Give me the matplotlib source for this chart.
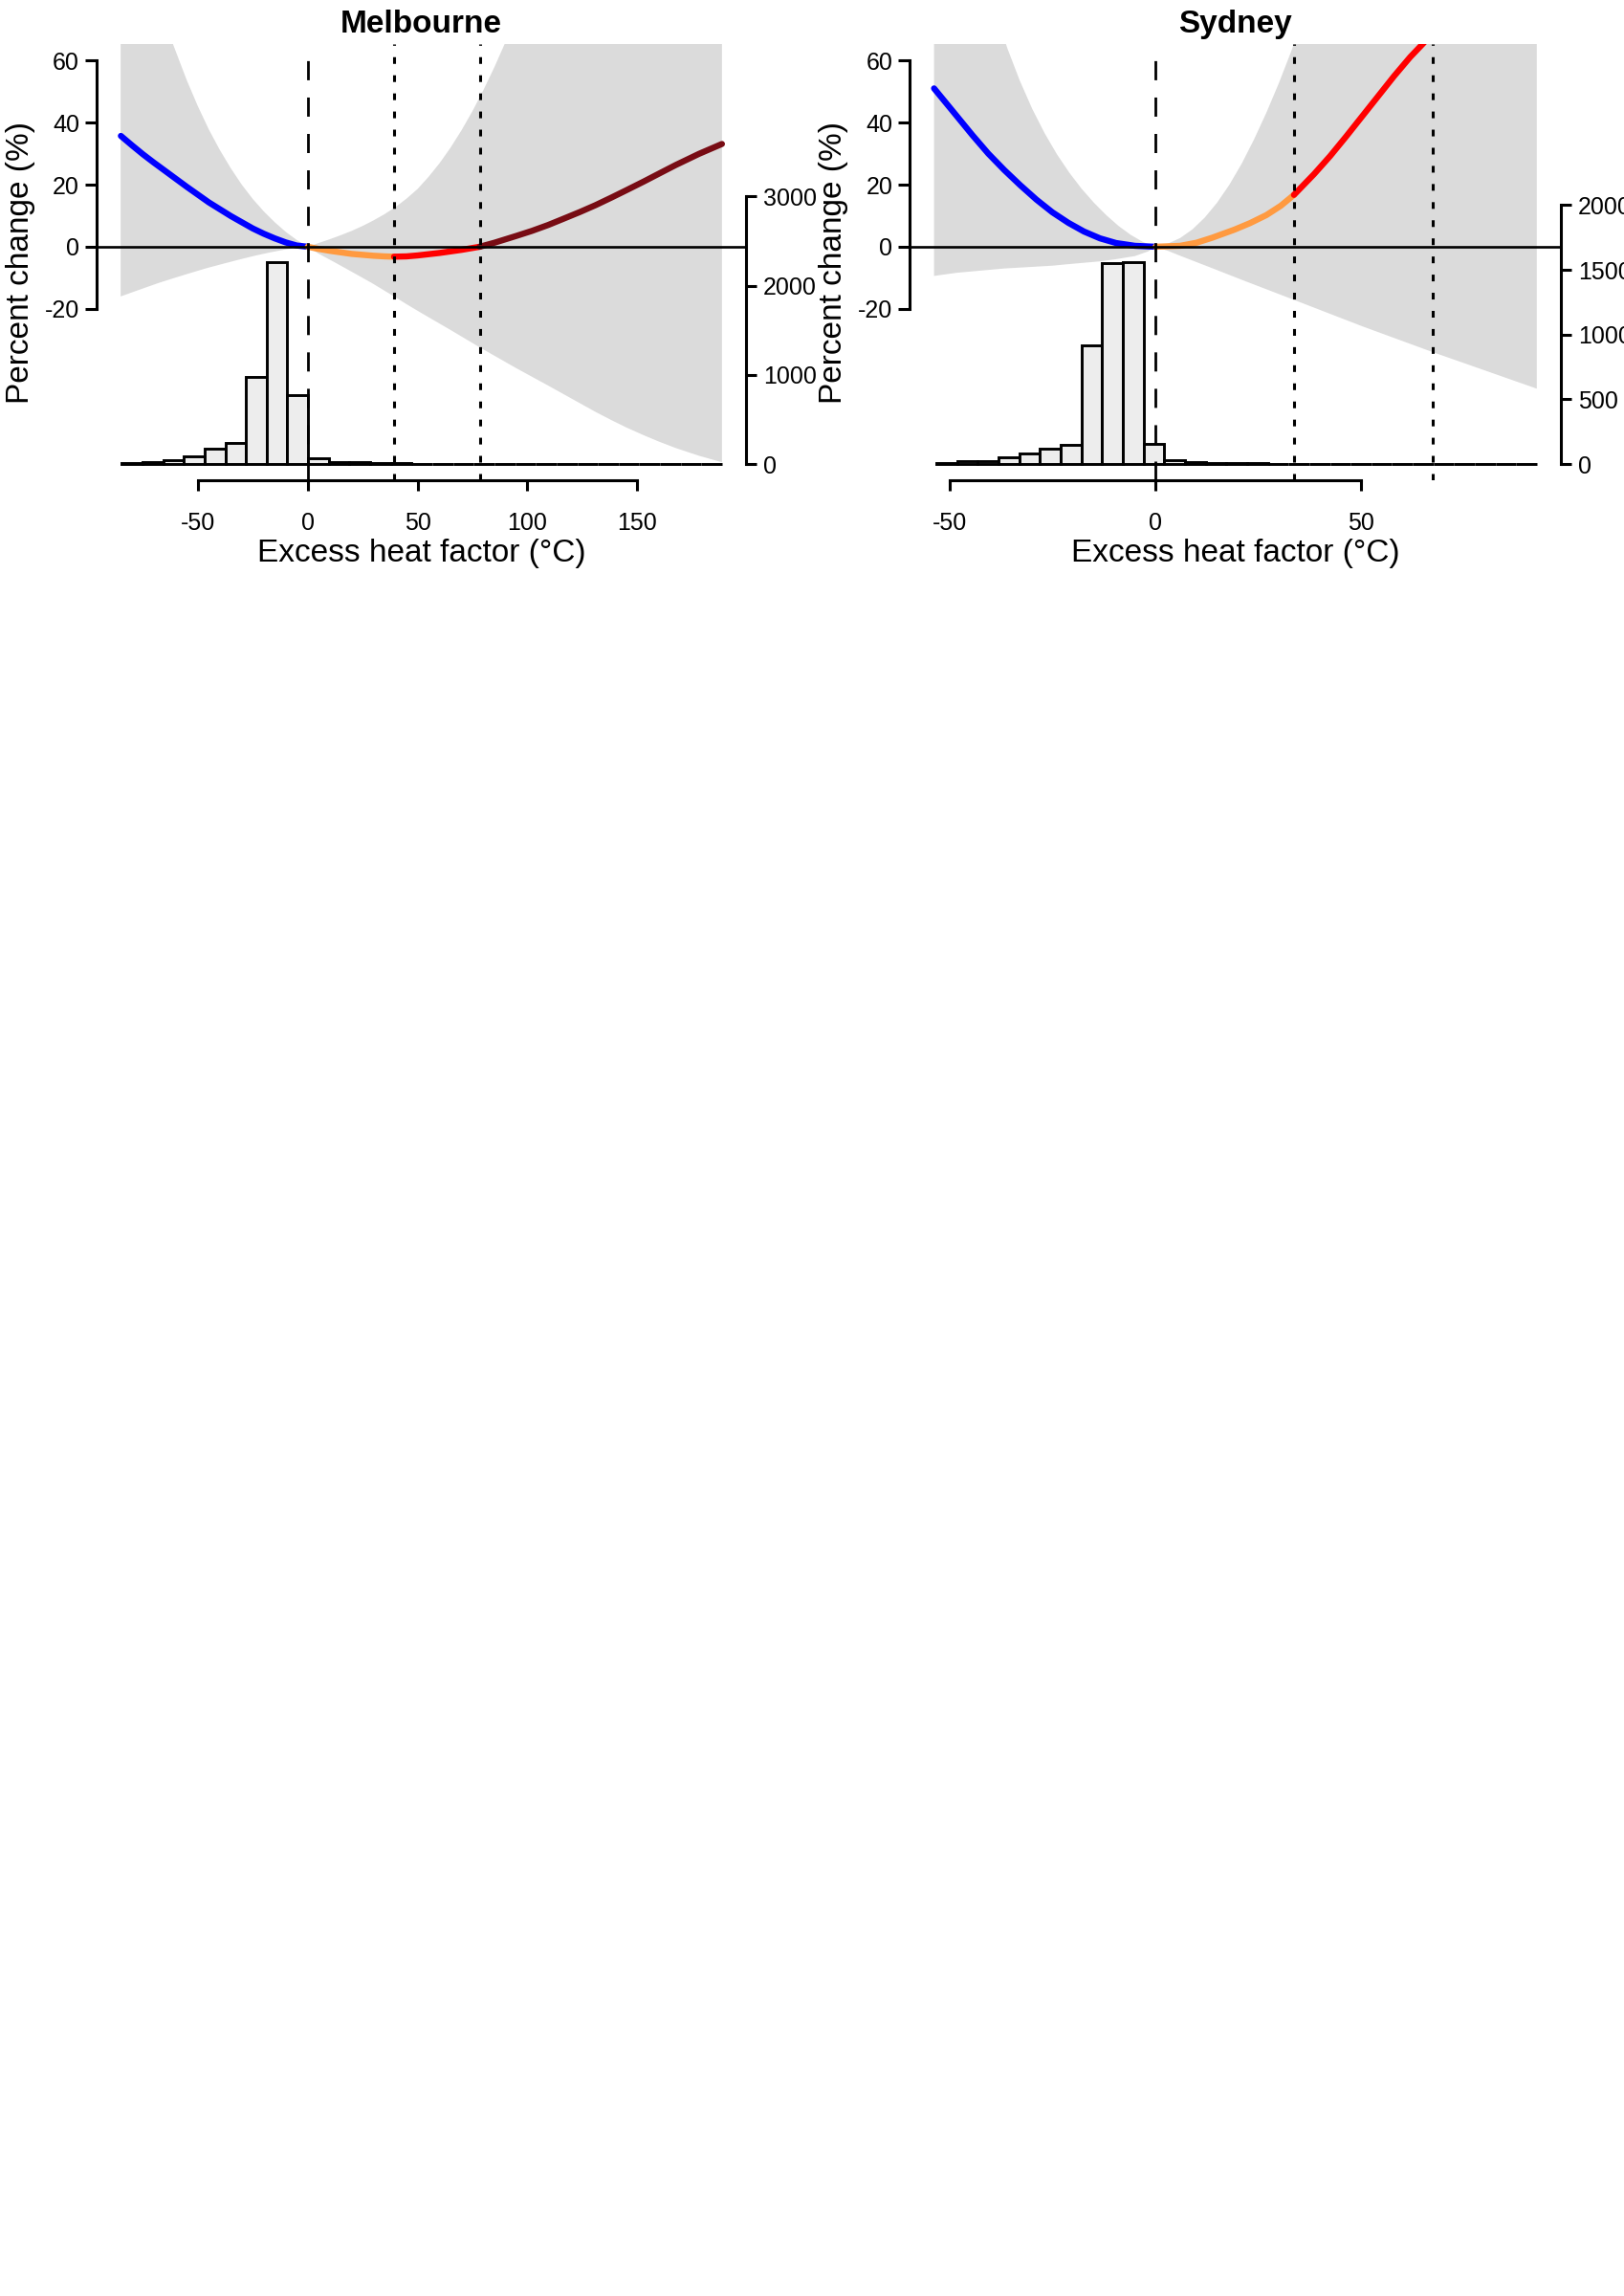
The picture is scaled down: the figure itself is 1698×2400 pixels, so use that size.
import numpy as np
import matplotlib
matplotlib.use('Agg')
import matplotlib.pyplot as plt

plt.rcParams['font.family'] = ['Liberation Sans', 'DejaVu Sans']
plt.rcParams['axes.unicode_minus'] = False

W, H = 1699, 2400

# ---------------- Melbourne ----------------
mel_range = (-85.1, 188.5)
mel_thresholds = [39.3, 78.3]
mel_xticks = [-50, 0, 50, 100, 150]
mel_hist_ticks = [0, 1000, 2000, 3000]

mel_blue_x = [-85, -80, -75, -70, -65, -60, -55, -50, -45, -40, -35, -30, -25, -20, -15, -10, -5, 0]
mel_blue_y = [35.7, 32.7, 29.8, 27.1, 24.5, 21.9, 19.3, 16.8, 14.3, 12.1, 9.9, 7.9, 5.9, 4.2, 2.7, 1.4, 0.4, 0]
mel_orange_x = [0, 5, 10, 15, 20, 25, 30, 35, 39.3]
mel_orange_y = [0, -0.7, -1.3, -1.8, -2.3, -2.6, -2.9, -3.1, -3.2]
mel_red_x = [39.3, 45, 50, 55, 60, 65, 70, 75, 78.3]
mel_red_y = [-3.2, -3.1, -2.8, -2.4, -2.0, -1.5, -1.0, -0.4, 0]
mel_dark_x = [78.3, 85, 95, 102, 109.4, 116, 123.9, 131, 138.4, 145, 152.9, 160, 167.4, 178, 188.5]
mel_dark_y = [0, 1.3, 3.5, 5.1, 7.0, 8.9, 11.2, 13.4, 15.9, 18.2, 21.0, 23.6, 26.3, 29.9, 33.1]

mel_hi_x = [-85.1, -75, -68, -61.1, -55, -50, -45, -40, -35, -30, -25, -20, -15, -10, -5, 0,
            5, 10, 15, 20, 25, 30, 35, 40, 45, 50, 55, 60, 65, 70, 75, 80, 85, 90, 95, 100, 188.5]
mel_hi = [122, 96, 80, 64.9, 53.6, 45.3, 37.8, 31.2, 25.3, 20.0, 15.4, 11.4, 7.9, 4.8, 2.2, 0,
          1.2, 2.4, 3.7, 5.1, 6.7, 8.5, 10.5, 12.8, 15.5, 18.6, 22.5, 26.9, 31.9, 37.5, 43.7,
          50.5, 57.9, 65.9, 74.5, 83.7, 260]
mel_lo_x = [-85.1, -76, -67.6, -60, -53.1, -46, -38.6, -31, -24.1, -17, -9.6, -4, 0,
            4.9, 12, 19.4, 29, 39.3, 45, 51.4, 65, 78.3, 94.9, 109.4, 123.9, 131, 138.4, 145,
            152.9, 160, 167.4, 178, 188.5]
mel_lo = [-16.0, -13.7, -11.6, -9.9, -8.4, -6.9, -5.5, -4.1, -2.9, -1.8, -0.8, -0.25, 0,
          -2.2, -4.9, -7.8, -11.6, -16.0, -18.5, -21.2, -26.8, -32.4, -39.1, -44.7, -50.4, -53.2,
          -55.9, -58.2, -60.7, -62.8, -64.8, -67.3, -69.4]

mel_hist_span = (-84.6, 188.6)
mel_counts = [7, 25, 46, 92, 168, 232, 982, 2262, 768, 61, 25, 25, 11, 8, 6,
              5, 4, 4, 3, 3, 2, 2, 2, 1, 1, 1, 1, 1, 1]

# ---------------- Sydney ----------------
syd_range = (-53.9, 92.8)
syd_thresholds = [33.7, 67.4]
syd_xticks = [-50, 0, 50]
syd_hist_ticks = [0, 500, 1000, 1500, 2000]

syd_blue_x = [-53.9, -48.5, -44.6, -40.7, -36.8, -32.9, -29, -25.1, -21.2, -17.4, -13.5, -9.6, -5, 0]
syd_blue_y = [51.0, 42.3, 36.0, 30.0, 24.7, 19.8, 15.2, 11.1, 7.7, 4.9, 2.7, 1.2, 0.3, 0]
syd_orange_x = [0, 6, 10, 13.8, 19.2, 23, 27, 30.5, 33.7]
syd_orange_y = [0, 0.3, 1.3, 2.9, 5.5, 7.6, 10.2, 13.2, 16.7]
syd_red_x = [33.7, 38.6, 42.5, 46.4, 50.3, 54.2, 58.1, 62.0, 65.1, 67.4]
syd_red_y = [16.7, 23.4, 29.2, 35.5, 42.0, 48.5, 55.0, 61.1, 65.4, 68.8]
syd_dark_x = [67.4, 80, 92.8]
syd_dark_y = [68.8, 95, 125]

syd_hi_x = [-53.9, -45, -39, -36, -33, -30, -27, -24, -21, -18, -15, -12, -9, -6, -3, 0,
            3, 6, 9, 12, 15, 18, 21, 24, 27, 30, 33, 36, 92.8]
syd_hi = [150, 104, 75.6, 63.7, 53.4, 44.4, 36.6, 29.8, 23.9, 18.7, 14.2, 10.2, 6.7, 3.8, 1.5, 0,
          1.0, 2.8, 5.6, 9.4, 14.2, 20.0, 26.8, 34.6, 43.2, 52.6, 62.8, 74, 400]
syd_lo_x = [-53.9, -48.5, -36.8, -25.1, -21.2, -13.5, -9.6, -5, -1.8, 0,
            3, 6, 13.8, 21.5, 33.7, 50.3, 67.4, 92.8]
syd_lo = [-9.4, -8.4, -7.0, -6.1, -5.6, -4.7, -4.0, -3.0, -1.5, 0,
          -1.3, -2.9, -6.9, -10.9, -17.1, -25.6, -33.9, -45.7]

syd_hist_span = (-53.3, 92.86)
syd_counts = [5, 25, 25, 53, 80, 116, 148, 915, 1550, 1558, 155, 33, 12, 8, 6,
              5, 4, 3, 3, 2, 2, 2, 1, 1, 1, 1, 1, 1, 1]

pct_ticks = [-20, 0, 20, 40, 60]


def px_rect(x0, y0, x1, y1):
    return [x0 / W, 1 - y1 / H, (x1 - x0) / W, (y1 - y0) / H]


def draw_panel(fig, rect, data_range, thresholds, xticks, hist_ticks, segments,
               hi_x, hi, lo_x, lo, hist_span, counts):
    ax = fig.add_axes(rect)
    ax2 = ax.twinx()
    # put the curve axes on top of the histogram axes
    ax.set_zorder(ax2.get_zorder() + 1)
    ax.patch.set_visible(False)

    r = data_range[1] - data_range[0]
    ax.set_xlim(data_range[0] - 0.04 * r, data_range[1] + 0.04 * r)
    ax.set_ylim(-70 - 0.04 * 130, 60 + 0.04 * 130)

    # confidence band
    poly_x = np.r_[hi_x, lo_x[::-1]]
    poly_y = np.r_[hi, lo[::-1]]
    ax.fill(poly_x, poly_y, color='#DBDBDB', lw=0, zorder=1)

    # histogram of exposure on the right axis
    edges = np.linspace(hist_span[0], hist_span[1], len(counts) + 1)
    top = 2 * max(counts)
    ax2.set_ylim(-0.04 * top, 1.04 * top)
    ax2.bar(edges[:-1], counts, width=np.diff(edges), align='edge',
            color='#EDEDED', edgecolor='black', linewidth=2.1)

    for xs, ys, col in segments:
        ax.plot(xs, ys, color=col, lw=4.6, solid_capstyle='round',
                solid_joinstyle='round', zorder=4)

    ax.axhline(0, color='black', lw=1.9, zorder=5)
    ax.axvline(0, color='black', lw=2.0, linestyle=(0, (7.2, 6.5)), zorder=5)
    for t in thresholds:
        ax.axvline(t, color='black', lw=2.2, linestyle=(0, (2.3, 3.9)), zorder=5)

    for s in ['top', 'right']:
        ax.spines[s].set_visible(False)
    ax.spines['left'].set_bounds(pct_ticks[0], pct_ticks[-1])
    ax.spines['bottom'].set_bounds(xticks[0], xticks[-1])
    for s in ['left', 'bottom']:
        ax.spines[s].set_linewidth(2.2)
    ax.set_yticks(pct_ticks)
    ax.set_yticklabels([str(v) for v in pct_ticks])
    ax.set_xticks(xticks)
    ax.set_xticklabels([str(v) for v in xticks])
    ax.tick_params(axis='y', length=9, width=2.2, labelsize=18, pad=4)
    ax.tick_params(axis='x', length=8, width=2.2, labelsize=18, pad=16)

    for s in ['top', 'left', 'bottom']:
        ax2.spines[s].set_visible(False)
    ax2.spines['right'].set_bounds(hist_ticks[0], hist_ticks[-1])
    ax2.spines['right'].set_linewidth(2.2)
    ax2.set_yticks(hist_ticks)
    ax2.set_yticklabels([str(v) for v in hist_ticks])
    ax2.tick_params(axis='y', length=8, width=2.2, labelsize=18, pad=5)
    return ax


fig = plt.figure(figsize=(W / 100, H / 100), dpi=100)

mel_segments = [(mel_blue_x, mel_blue_y, '#0000FF'),
                (mel_orange_x, mel_orange_y, '#FF9A40'),
                (mel_red_x, mel_red_y, '#FF0000'),
                (mel_dark_x, mel_dark_y, '#780C14')]
syd_segments = [(syd_blue_x, syd_blue_y, '#0000FF'),
                (syd_orange_x, syd_orange_y, '#FF9A40'),
                (syd_red_x, syd_red_y, '#FF0000'),
                (syd_dark_x, syd_dark_y, '#780C14')]

draw_panel(fig, px_rect(101, 46.3, 780, 502), mel_range, mel_thresholds, mel_xticks,
           mel_hist_ticks, mel_segments, mel_hi_x, mel_hi, mel_lo_x, mel_lo,
           mel_hist_span, mel_counts)
draw_panel(fig, px_rect(951.4, 46.3, 1632, 502), syd_range, syd_thresholds, syd_xticks,
           syd_hist_ticks, syd_segments, syd_hi_x, syd_hi, syd_lo_x, syd_lo,
           syd_hist_span, syd_counts)

for cx, ylx, name in [(440.5, 21.7, 'Melbourne'), (1291.7, 871.7, 'Sydney')]:
    fig.text(cx / W, 1 - 25.7 / H, name, ha='center', va='center',
             fontsize=24, fontweight='bold')
    fig.text(cx / W, 1 - 579 / H, 'Excess heat factor (°C)', ha='center', va='center',
             fontsize=24)
    fig.text(ylx / W, 1 - 274 / H, 'Percent change (%)', ha='center', va='center',
             rotation=90, fontsize=24)

fig.savefig('out.png', dpi=100)
